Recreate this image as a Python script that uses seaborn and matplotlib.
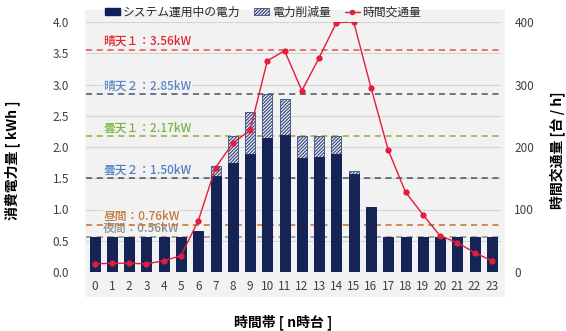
import matplotlib
matplotlib.use("Agg")
import matplotlib.pyplot as plt
import seaborn as sns
import numpy as np
from matplotlib.patches import Patch, Rectangle
from matplotlib.lines import Line2D

# データ
hours = list(range(24))
power_run = [0.56, 0.56, 0.56, 0.56, 0.56, 0.56, 0.65, 1.54, 1.75, 1.89, 2.14, 2.19,
             1.82, 1.84, 1.89, 1.57, 1.04, 0.56, 0.56, 0.56, 0.56, 0.56, 0.56, 0.56]
power_total = [0.56, 0.56, 0.56, 0.56, 0.56, 0.56, 0.65, 1.70, 2.17, 2.56, 2.85, 2.77,
               2.17, 2.17, 2.17, 1.62, 1.04, 0.56, 0.56, 0.56, 0.56, 0.56, 0.56, 0.56]
traffic = [13, 14, 14, 13, 18, 26, 82, 167, 206, 227, 338, 354,
           290, 343, 399, 400, 295, 195, 128, 92, 58, 47, 31, 18]
ref_labels = ["晴天１：3.56kW", "晴天２：2.85kW", "曇天１：2.17kW",
              "曇天２：1.50kW", "昼間：0.76kW", "夜間：0.56kW"]
ref_values = [3.56, 2.85, 2.17, 1.50, 0.76, 0.56]
ref_text_colors = ["#e0262e", "#5a86c8", "#7cb342", "#4f7fbf", "#c0783a", "#8c8c8c"]
ref_line_colors = ["#e05050", "#44546a", "#9aa83a", "#44546a", "#c5702a", "#8c8c8c"]

sns.set_style("white")
plt.rcParams['font.family'] = ['Noto Sans CJK JP', 'DejaVu Sans']
plt.rcParams['hatch.linewidth'] = 0.9

navy = "#0c1f5e"
hatch_col = "#3b4c7e"
bg = "#f2f2f2"

W, H = 566, 331
fig = plt.figure(figsize=(W / 100, H / 100), dpi=100)
fig.patch.set_facecolor("white")

# グラフ領域の背景
fig.patches.append(Rectangle((85 / W, 1 - 297 / H), (505 - 85) / W, (297 - 10) / H,
                             transform=fig.transFigure, facecolor=bg, edgecolor="none", zorder=-5))

ax = fig.add_axes([86 / W, 1 - 272 / H, (500.5 - 86) / W, 250 / H])
ax.patch.set_visible(False)

# 棒グラフ（合計＝削減量のハッチ、その上に運用中の電力）
sns.barplot(x=hours, y=power_total, ax=ax, color="#f7f8fc", edgecolor=hatch_col,
            hatch="//////////", linewidth=0.6, width=0.58, zorder=2)
sns.barplot(x=hours, y=power_run, ax=ax, color=navy, edgecolor=navy,
            linewidth=0.6, width=0.58, zorder=2.1)

ax.set_ylim(0, 4.0)
ax.set_xlim(-0.5, 23.5)
ax.set_yticks(np.arange(0, 4.01, 0.5))
ax.set_yticklabels([f"{v:.1f}" for v in np.arange(0, 4.01, 0.5)])
ax.yaxis.grid(True, color="#d4d4d4", linewidth=0.8, zorder=0.5)
ax.set_axisbelow(True)
for s in ax.spines.values():
    s.set_visible(False)
ax.tick_params(axis="both", length=0, labelsize=8.5, colors="#404040")
ax.tick_params(axis="y", pad=12)
ax.tick_params(axis="x", pad=6)
ax.set_xlabel("")
ax.set_ylabel("")

# 基準線とラベル
for lab, val, tc, lc in zip(ref_labels, ref_values, ref_text_colors, ref_line_colors):
    ax.axhline(val, color=lc, linestyle=(0, (4, 3)), linewidth=1.1, zorder=1.5)
    ax.text(0.5, val + 0.13, lab, color=tc, fontsize=8.5, fontweight="medium",
            ha="left", va="center", zorder=1,
            bbox=dict(facecolor=bg, edgecolor="none", pad=0.5))

# 時間交通量（右軸）
ax2 = ax.twinx()
ax2.patch.set_visible(False)
sns.lineplot(x=hours, y=traffic, ax=ax2, color="#e31c3d", linewidth=1.0,
             marker="o", markersize=4.5, markeredgewidth=0, zorder=5)
ax2.set_ylim(0, 400)
ax2.set_yticks([0, 100, 200, 300, 400])
for s in ax2.spines.values():
    s.set_visible(False)
ax2.tick_params(axis="y", length=0, labelsize=8.5, colors="#404040", pad=10)
ax2.set_ylabel("")
ax2.grid(False)

# 軸ラベル
fig.text(12 / W, 1 - 160 / H, "消費電力量 [ kWh ]", rotation=90, ha="center", va="center",
         fontsize=10, fontweight="bold", color="black")
fig.text(557 / W, 1 - 150 / H, "時間交通量 [台 / h]", rotation=90, ha="center", va="center",
         fontsize=10, fontweight="bold", color="black")
fig.text(283 / W, 1 - 322 / H, "時間帯 [ n時台 ]", ha="center", va="center",
         fontsize=10, fontweight="bold", color="black")

# 凡例
handles = [Patch(facecolor=navy, edgecolor=navy),
           Patch(facecolor="#f7f8fc", edgecolor=hatch_col, hatch="//////////", linewidth=0.6),
           Line2D([0], [0], color="#e31c3d", linewidth=1.0, marker="o", markersize=4, markeredgewidth=0)]
fig.legend(handles, ["システム運用中の電力", "電力削減量", "時間交通量"], loc="center",
           bbox_to_anchor=(263 / W, 1 - 12 / H), ncol=3, frameon=False, fontsize=8.5,
           handlelength=1.3, handleheight=0.6, handletextpad=0.2, columnspacing=1.2)

fig.savefig("out.png", dpi=100)
